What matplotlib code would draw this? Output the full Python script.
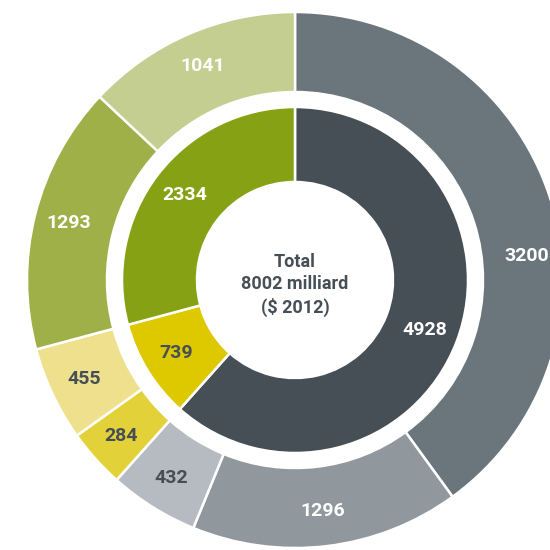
import numpy as np
import matplotlib.pyplot as plt

inner_labels = ["4928", "739", "2334"]
inner_values = [4928, 739, 2334]
inner_colors = ["#464e56", "#dec800", "#86a214"]
inner_text = ["white", "#464e56", "white"]

outer_labels = ["3200", "1296", "432", "284", "455", "1293", "1041"]
outer_values = [3200, 1296, 432, 284, 455, 1293, 1041]
outer_colors = ["#6a757c", "#90989e", "#b5bbc0", "#e3d13a", "#efe08e", "#a0b048", "#c3ce90"]
outer_text = ["white", "white", "#464e56", "#464e56", "#464e56", "white", "white"]

center_text = "Total\n8002 milliard\n($ 2012)"

plt.rcParams['font.family'] = ['Roboto', 'DejaVu Sans']

fig = plt.figure(figsize=(5.5, 5.5), dpi=100)
ax = fig.add_axes([0, 0, 1, 1])

# units are pixels, centre of the donut at (0, 0)
R_out, w_out = 268, 80
R_in, w_in = 173, 75

ax.pie(outer_values, radius=R_out, colors=outer_colors, startangle=90, counterclock=False,
       wedgeprops=dict(width=w_out, edgecolor="white", linewidth=1.8))
ax.pie(inner_values, radius=R_in, colors=inner_colors, startangle=90, counterclock=False,
       wedgeprops=dict(width=w_in, edgecolor="white", linewidth=1.8))


def put_labels(values, labels, tcolors, r, shift=None):
    total = sum(values)
    cum = np.cumsum([0] + values)
    for i, lab in enumerate(labels):
        ang = (cum[i] + values[i] / 2) / total * 360
        if shift and i in shift:
            ang += shift[i]
        a = np.deg2rad(ang)
        ax.text(r * np.sin(a), r * np.cos(a), lab, ha="center", va="center",
                color=tcolors[i], fontsize=14, fontweight="bold")


# 3200 label sits lower in the visible part of its slice
put_labels(outer_values, outer_labels, outer_text, 233, shift={0: 12})
put_labels(inner_values, inner_labels, inner_text, 139)

ax.text(0, -5, center_text, ha="center", va="center", color="#464e56",
        fontsize=13, fontweight="bold", linespacing=1.3)

ax.set_xlim(-295, 255)
ax.set_ylim(-270, 280)
ax.set_aspect("equal")
ax.axis("off")

fig.savefig("out.png", dpi=100)
